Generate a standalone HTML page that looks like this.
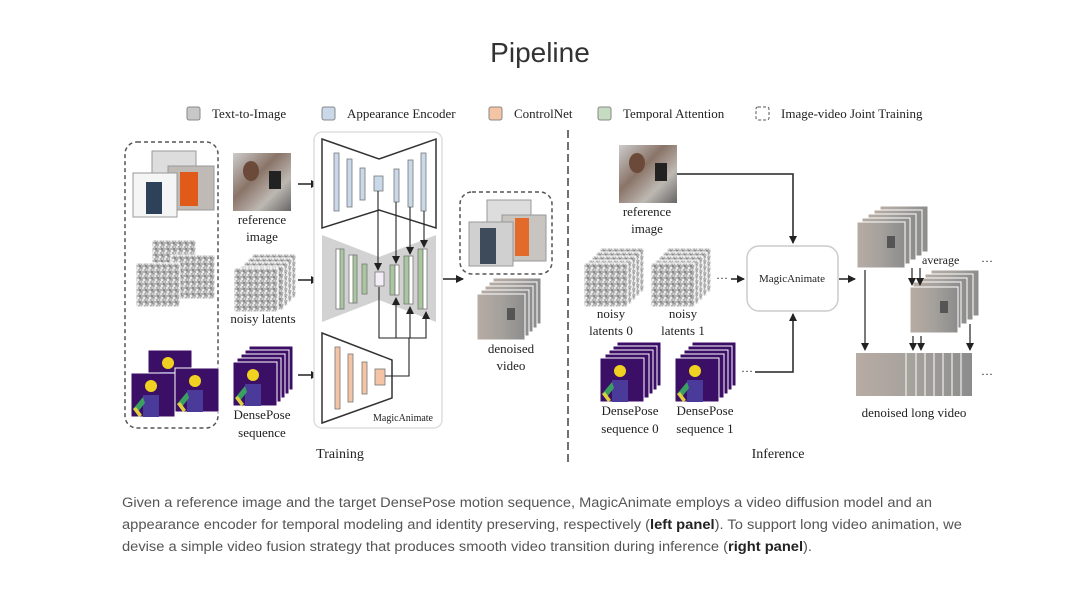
<!DOCTYPE html>
<html><head><meta charset="utf-8"><style>
html,body{margin:0;padding:0;background:#fff;}
svg{display:block;}
.s{font-family:"Liberation Serif",serif;fill:#222;}
.c{font-family:"Liberation Sans",sans-serif;fill:#555;font-size:13.5px;}
</style></head><body>
<svg width="1080" height="598" viewBox="0 0 1080 598" xmlns="http://www.w3.org/2000/svg">
<defs>
<pattern id="nz" width="6" height="6" patternUnits="userSpaceOnUse">
<rect width="6" height="6" fill="#b4b4b4"/><rect x="0" y="0" width="2" height="2" fill="#e2e2e2"/><rect x="3" y="2" width="2" height="2" fill="#8a8a8a"/><rect x="1" y="4" width="2" height="2" fill="#ececec"/><rect x="4" y="4" width="2" height="1" fill="#999"/><rect x="4" y="0" width="1" height="2" fill="#d0d0d0"/>
</pattern>
<linearGradient id="ph" x1="0" y1="0" x2="1" y2="1"><stop offset="0" stop-color="#ccc"/><stop offset="0.4" stop-color="#8a7468"/><stop offset="0.7" stop-color="#bdb8b2"/><stop offset="1" stop-color="#666"/></linearGradient>
<linearGradient id="pv" x1="0" y1="0" x2="1" y2="0"><stop offset="0" stop-color="#b8aca4"/><stop offset="0.5" stop-color="#a5a19c"/><stop offset="1" stop-color="#8c8c8c"/></linearGradient>
<marker id="ar" markerWidth="8" markerHeight="8" refX="7" refY="4" orient="auto" markerUnits="userSpaceOnUse"><path d="M0,0 L8,4 L0,8 Z" fill="#222"/></marker>
<g id="dp"><rect width="44" height="44" fill="#3b0f66" stroke="#fff" stroke-width="1"/><circle cx="20" cy="13" r="6" fill="#f0d020"/><path d="M12,22 h16 v22 h-16z" fill="#4a3a9a"/><path d="M12,24 l-10,12 l4,4 l8,-10z" fill="#3aa060"/><path d="M2,36 l6,8 l3,-2 l-6,-8z" fill="#e0d040"/></g>
<g id="nl"><rect width="44" height="44" fill="url(#nz)" stroke="#fff" stroke-width="1"/></g>
<g id="pi"><rect width="58" height="58" fill="url(#ph)"/><rect x="36" y="18" width="12" height="18" fill="#222"/><ellipse cx="18" cy="18" rx="8" ry="10" fill="#6b4a3a"/></g>
<g id="vf"><rect width="48" height="46" fill="url(#pv)" stroke="#fff" stroke-width="1"/><rect x="30" y="14" width="8" height="12" fill="#555"/></g>
</defs>

<text x="540" y="62" text-anchor="middle" font-family="Liberation Sans,sans-serif" font-size="28" fill="#333">Pipeline</text>

<g class="s" font-size="13">
<rect x="187" y="107" width="13" height="13" rx="2" fill="#c8c8c8" stroke="#888"/><text x="212" y="118">Text-to-Image</text>
<rect x="322" y="107" width="13" height="13" rx="2" fill="#c9d9ea" stroke="#888"/><text x="347" y="118">Appearance Encoder</text>
<rect x="489" y="107" width="13" height="13" rx="2" fill="#f4c4a4" stroke="#888"/><text x="514" y="118">ControlNet</text>
<rect x="598" y="107" width="13" height="13" rx="2" fill="#c6dcc0" stroke="#888"/><text x="623" y="118">Temporal Attention</text>
<rect x="756" y="107" width="13" height="13" rx="2" fill="none" stroke="#555" stroke-dasharray="3,2"/><text x="781" y="118">Image-video Joint Training</text>
</g>

<rect x="125" y="142" width="93" height="286" rx="12" fill="none" stroke="#555" stroke-width="1.5" stroke-dasharray="4,3"/>
<rect x="152" y="151" width="44" height="40" fill="#ddd" stroke="#999"/>
<rect x="168" y="166" width="46" height="44" fill="#c0bab6" stroke="#999"/><path d="M180,172 h18 v34 h-18z" fill="#e05a1a"/>
<rect x="133" y="173" width="44" height="44" fill="#f5f5f5" stroke="#999"/><path d="M146,182 h16 v32 h-16z" fill="#2d4258"/>
<use href="#nl" x="152" y="240"/><use href="#nl" x="171" y="255"/><use href="#nl" x="136" y="263"/>
<use href="#dp" x="148" y="350"/><use href="#dp" x="175" y="368"/><use href="#dp" x="131" y="373"/>

<use href="#pi" x="233" y="153"/>
<text class="s" font-size="13" x="262" y="224" text-anchor="middle">reference</text>
<text class="s" font-size="13" x="262" y="241" text-anchor="middle">image</text>
<use href="#nl" x="252" y="254"/><use href="#nl" x="248" y="258"/><use href="#nl" x="244" y="262"/><use href="#nl" x="240" y="266"/><use href="#nl" x="234" y="268"/>
<text class="s" font-size="13" x="263" y="323" text-anchor="middle">noisy latents</text>
<use href="#dp" x="249" y="346"/><use href="#dp" x="245" y="350"/><use href="#dp" x="241" y="354"/><use href="#dp" x="237" y="358"/><use href="#dp" x="233" y="362"/>
<text class="s" font-size="13" x="262" y="419" text-anchor="middle">DensePose</text>
<text class="s" font-size="13" x="262" y="437" text-anchor="middle">sequence</text>

<g stroke="#222" stroke-width="1.5" marker-end="url(#ar)">
<line x1="298" y1="184" x2="318" y2="184"/><line x1="298" y1="280" x2="318" y2="280"/><line x1="298" y1="375" x2="318" y2="375"/>
<line x1="443" y1="279" x2="463" y2="279"/>
</g>

<rect x="314" y="132" width="128" height="296" rx="8" fill="#fff" stroke="#ddd" stroke-width="1.5"/>
<polygon points="322,139 379,159 436,139 436,228 379,210 322,228" fill="#fff" stroke="#333" stroke-width="1.5"/>
<polygon points="322,235 379,257 436,235 436,322 379,300 322,322" fill="#d2d2d2"/>
<polygon points="322,333 392,360 392,398 322,423" fill="#fff" stroke="#333" stroke-width="1.5"/>
<g fill="#c9d9ea" stroke="#777" stroke-width="0.8">
<rect x="334" y="153" width="5" height="58"/><rect x="347" y="159" width="5" height="48"/><rect x="360" y="168" width="5" height="32"/>
<rect x="374" y="176" width="9" height="15"/>
<rect x="394" y="169" width="5" height="33"/><rect x="408" y="160" width="5" height="47"/><rect x="421" y="153" width="5" height="58"/>
</g>
<g stroke="#777" stroke-width="0.8">
<rect x="336" y="249" width="5" height="60" fill="#fff"/><rect x="340" y="249" width="4" height="60" fill="#a9c79e"/>
<rect x="349" y="255" width="5" height="48" fill="#fff"/><rect x="353" y="255" width="4" height="48" fill="#a9c79e"/>
<rect x="362" y="264" width="5" height="30" fill="#a9c79e"/>
<rect x="375" y="272" width="9" height="14" fill="#f4eef8"/>
<rect x="390" y="265" width="5" height="30" fill="#a9c79e"/><rect x="395" y="265" width="4" height="30" fill="#fff"/>
<rect x="404" y="256" width="5" height="48" fill="#a9c79e"/><rect x="409" y="256" width="4" height="48" fill="#fff"/>
<rect x="418" y="249" width="5" height="60" fill="#a9c79e"/><rect x="423" y="249" width="4" height="60" fill="#fff"/>
</g>
<g fill="#f4c4a4" stroke="#777" stroke-width="0.8">
<rect x="335" y="347" width="5" height="62"/><rect x="348" y="354" width="5" height="48"/><rect x="362" y="362" width="5" height="32"/><rect x="375" y="369" width="10" height="16"/>
</g>
<g stroke="#222" stroke-width="1.1" fill="none">
<polyline points="378,191 378,270" marker-end="url(#ar)"/>
<polyline points="396,202 396,263" marker-end="url(#ar)"/>
<polyline points="410,207 410,254" marker-end="url(#ar)"/>
<polyline points="424,211 424,247" marker-end="url(#ar)"/>
<polyline points="379,287 379,338 426,338 426,312" marker-end="url(#ar)"/>
<polyline points="396,338 396,298" marker-end="url(#ar)"/>
<polyline points="410,338 410,307" marker-end="url(#ar)"/>
<polyline points="385,376 409,376 409,338"/>
</g>
<text class="s" font-size="10" x="433" y="421" text-anchor="end">MagicAnimate</text>

<rect x="460" y="192" width="92" height="82" rx="12" fill="none" stroke="#555" stroke-width="1.5" stroke-dasharray="4,3"/>
<rect x="487" y="200" width="44" height="32" fill="#ddd" stroke="#999"/>
<rect x="502" y="215" width="44" height="46" fill="#c8c4c0" stroke="#999"/><path d="M515,218 h14 v38 h-14z" fill="#e26a2a"/>
<rect x="469" y="222" width="44" height="44" fill="#d0d0d0" stroke="#999"/><path d="M480,228 h16 v36 h-16z" fill="#3d4b5a"/>
<use href="#vf" x="493" y="278"/><use href="#vf" x="489" y="282"/><use href="#vf" x="485" y="286"/><use href="#vf" x="481" y="290"/><use href="#vf" x="477" y="294"/>
<text class="s" font-size="13" x="511" y="353" text-anchor="middle">denoised</text>
<text class="s" font-size="13" x="511" y="370" text-anchor="middle">video</text>
<text class="s" font-size="14" x="340" y="458" text-anchor="middle">Training</text>

<line x1="568" y1="130" x2="568" y2="462" stroke="#444" stroke-width="1.5" stroke-dasharray="8,4"/>

<use href="#pi" x="619" y="145"/>
<text class="s" font-size="13" x="647" y="216" text-anchor="middle">reference</text>
<text class="s" font-size="13" x="647" y="233" text-anchor="middle">image</text>
<polyline points="677,174 793,174 793,243" fill="none" stroke="#222" stroke-width="1.5" marker-end="url(#ar)"/>
<rect x="747" y="246" width="91" height="65" rx="12" fill="#fff" stroke="#ccc" stroke-width="1.5"/>
<text class="s" font-size="11" x="792" y="282" text-anchor="middle">MagicAnimate</text>
<g>
<use href="#nl" x="600" y="248"/><use href="#nl" x="596" y="252"/><use href="#nl" x="592" y="256"/><use href="#nl" x="588" y="260"/><use href="#nl" x="584" y="263"/>
<use href="#nl" x="667" y="248"/><use href="#nl" x="663" y="252"/><use href="#nl" x="659" y="256"/><use href="#nl" x="655" y="260"/><use href="#nl" x="651" y="263"/>
</g>
<text class="s" font-size="13" x="611" y="318" text-anchor="middle">noisy</text>
<text class="s" font-size="13" x="611" y="335" text-anchor="middle">latents 0</text>
<text class="s" font-size="13" x="683" y="318" text-anchor="middle">noisy</text>
<text class="s" font-size="13" x="683" y="335" text-anchor="middle">latents 1</text>
<text class="s" font-size="12" x="716" y="282">···</text>
<line x1="731" y1="279" x2="744" y2="279" stroke="#222" stroke-width="1.5" marker-end="url(#ar)"/>
<use href="#dp" x="617" y="342"/><use href="#dp" x="613" y="346"/><use href="#dp" x="609" y="350"/><use href="#dp" x="605" y="354"/><use href="#dp" x="600" y="358"/>
<use href="#dp" x="692" y="342"/><use href="#dp" x="688" y="346"/><use href="#dp" x="684" y="350"/><use href="#dp" x="680" y="354"/><use href="#dp" x="675" y="358"/>
<text class="s" font-size="13" x="630" y="415" text-anchor="middle">DensePose</text>
<text class="s" font-size="13" x="630" y="433" text-anchor="middle">sequence 0</text>
<text class="s" font-size="13" x="705" y="415" text-anchor="middle">DensePose</text>
<text class="s" font-size="13" x="705" y="433" text-anchor="middle">sequence 1</text>
<text class="s" font-size="12" x="741" y="375">···</text>
<polyline points="755,372 793,372 793,314" fill="none" stroke="#222" stroke-width="1.5" marker-end="url(#ar)"/>
<line x1="839" y1="279" x2="855" y2="279" stroke="#222" stroke-width="1.5" marker-end="url(#ar)"/>

<use href="#vf" x="880" y="206"/><use href="#vf" x="874" y="210"/><use href="#vf" x="868" y="214"/><use href="#vf" x="862" y="218"/><use href="#vf" x="857" y="222"/>
<use href="#vf" x="931" y="270"/><use href="#vf" x="925" y="274"/><use href="#vf" x="919" y="278"/><use href="#vf" x="913" y="282"/><use href="#vf" x="910" y="287"/>
<rect x="856" y="353" width="116" height="43" fill="url(#pv)"/>
<g stroke="#eee" stroke-width="1.2"><line x1="906" y1="353" x2="906" y2="396"/><line x1="916" y1="353" x2="916" y2="396"/><line x1="925" y1="353" x2="925" y2="396"/><line x1="934" y1="353" x2="934" y2="396"/><line x1="943" y1="353" x2="943" y2="396"/><line x1="952" y1="353" x2="952" y2="396"/><line x1="961" y1="353" x2="961" y2="396"/></g>
<text class="s" font-size="12" x="922" y="264">average</text>
<text class="s" font-size="12" x="981" y="265">···</text>
<text class="s" font-size="12" x="981" y="378">···</text>
<g stroke="#222" stroke-width="1.2" marker-end="url(#ar)">
<line x1="865" y1="270" x2="865" y2="350"/>
<line x1="912" y1="268" x2="912" y2="285"/><line x1="920" y1="268" x2="920" y2="285"/>
<line x1="913" y1="336" x2="913" y2="350"/><line x1="921" y1="336" x2="921" y2="350"/>
<line x1="970" y1="324" x2="970" y2="350"/>
</g>
<text class="s" font-size="13" x="914" y="417" text-anchor="middle">denoised long video</text>
<text class="s" font-size="14" x="778" y="458" text-anchor="middle">Inference</text>

<text class="c" x="122" y="507" textLength="810" lengthAdjust="spacingAndGlyphs">Given a reference image and the target DensePose motion sequence, MagicAnimate employs a video diffusion model and an</text>
<text class="c" x="122" y="529" textLength="840" lengthAdjust="spacingAndGlyphs">appearance encoder for temporal modeling and identity preserving, respectively (<tspan font-weight="bold" fill="#222">left panel</tspan>). To support long video animation, we</text>
<text class="c" x="122" y="551" textLength="690" lengthAdjust="spacingAndGlyphs">devise a simple video fusion strategy that produces smooth video transition during inference (<tspan font-weight="bold" fill="#222">right panel</tspan>).</text>
</svg>
</body></html>
